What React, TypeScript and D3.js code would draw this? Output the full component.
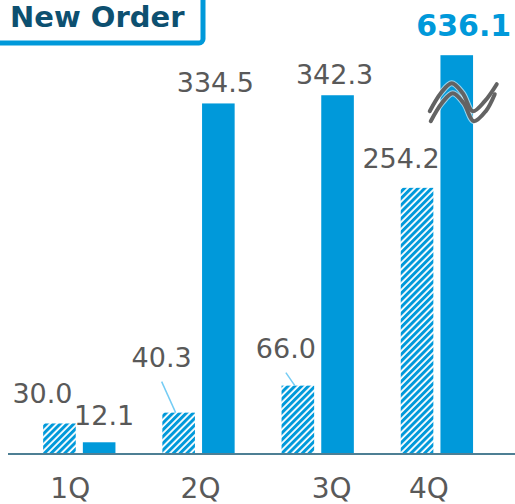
import React from "react";
import * as d3 from "d3";

const quarters = ["1Q", "2Q", "3Q", "4Q"];
const prevYear = [30.0, 40.3, 66.0, 254.2];
const currYear = [12.1, 334.5, 342.3, 636.1];
const capValue = 380.4; // bars above this are drawn broken
const series = ["prev", "curr"];

// label placement tweaks (not data)
const prevLabelDx = [-17, -17, -12, -16];
const prevLabelDy = [-20, -46, -28, -20];
const currLabelDx = [5, -3, -3, 7];
const currLabelDy = [-17, -11, -11, 0];
const tickDx = [-9, 2, 14, -8];

const BLUE = "#0099DA";
const GRAY = "#595959";

export default function App() {
  const W = 515;
  const H = 504;
  const baseY = 455;
  const y = d3.scaleLinear().domain([0, 400]).range([baseY, baseY - 420.4]);
  const x0 = d3.scaleBand<string>().domain(quarters).range([19.7, 496.5]).padding(0);
  const x1 = d3
    .scaleBand<string>()
    .domain(series)
    .range([23.45, 95.75])
    .paddingInner(0.179)
    .paddingOuter(0);
  const bw = x1.bandwidth();
  const font = "'DejaVu Sans', Verdana, sans-serif";

  const wave = d3
    .line<[number, number]>()
    .curve(d3.curveCatmullRom.alpha(0.5));

  const cx4 = (x0("4Q") as number) + (x1("curr") as number) + bw / 2;
  const capTop = y(capValue);
  const waveRel: [number, number][] = [
    [-27, 56],
    [-16, 38],
    [-5, 28],
    [6, 38],
    [16, 56],
    [28, 46],
    [40, 29],
  ];
  const wave1 = waveRel.map(([dx, dy]) => [cx4 + dx, capTop + dy] as [number, number]);
  const wave2 = waveRel.map(
    ([dx, dy], i) => [cx4 + dx + (i === waveRel.length - 1 ? -2 : 1), capTop + dy + 10] as [number, number]
  );

  return (
    <svg
      width={W}
      height={H}
      style={{ position: "absolute", left: 0, top: 0, background: "#fff" }}
    >
      <defs>
        <pattern
          id="hatch"
          patternUnits="userSpaceOnUse"
          width={4.8}
          height={4.8}
          patternTransform="rotate(45)"
        >
          <rect width={4.8} height={4.8} fill="#fff" />
          <rect width={3.0} height={4.8} fill={BLUE} />
        </pattern>
      </defs>

      {/* title box */}
      <rect x={-20} y={-20} width={223} height={63} rx={4} fill="#fff" stroke={BLUE} strokeWidth={5} />
      <text x={10} y={27} fontFamily={font} fontWeight="bold" fontSize={29} fill="#0D5070">
        New Order
      </text>

      {/* bars */}
      {quarters.map((q, i) => {
        const gx = x0(q) as number;
        const px = gx + (x1("prev") as number);
        const cx = gx + (x1("curr") as number);
        const pv = prevYear[i];
        const cv = currYear[i];
        const cvDraw = Math.min(cv, capValue);
        return (
          <g key={q}>
            <rect x={px} y={y(pv)} width={bw} height={baseY - y(pv)} fill="url(#hatch)" />
            <rect x={cx} y={y(cvDraw)} width={bw} height={baseY - y(cvDraw)} fill={BLUE} />
          </g>
        );
      })}

      {/* break symbol */}
      <path d={wave(wave1) as string} fill="none" stroke="#fff" strokeWidth={6} strokeLinecap="round" opacity={0.6} />
      <path d={wave(wave2) as string} fill="none" stroke="#fff" strokeWidth={6} strokeLinecap="round" opacity={0.6} />
      <path d={wave(wave1) as string} fill="none" stroke="#636363" strokeWidth={4} strokeLinecap="round" />
      <path d={wave(wave2) as string} fill="none" stroke="#636363" strokeWidth={4} strokeLinecap="round" />

      {/* axis line */}
      <line x1={8} x2={515} y1={454} y2={454} stroke="#4E7F94" strokeWidth={2} />

      {/* leader lines */}
      {[1, 2].map((i) => {
        const gx = x0(quarters[i]) as number;
        const pcx = gx + (x1("prev") as number) + bw / 2;
        const top = y(prevYear[i]);
        const lx = pcx + prevLabelDx[i];
        const ly = top + prevLabelDy[i] + 15;
        return (
          <line key={i} x1={lx} y1={ly} x2={pcx - 3} y2={top} stroke="#74CCF4" strokeWidth={1.5} />
        );
      })}

      {/* value labels */}
      {quarters.map((q, i) => {
        const gx = x0(q) as number;
        const pcx = gx + (x1("prev") as number) + bw / 2;
        const ccx = gx + (x1("curr") as number) + bw / 2;
        const isBig = currYear[i] > capValue;
        return (
          <g key={q}>
            <text
              x={pcx + prevLabelDx[i]}
              y={y(prevYear[i]) + prevLabelDy[i]}
              textAnchor="middle"
              fontFamily={font}
              fontSize={27}
              fill={GRAY}
            >
              {prevYear[i].toFixed(1)}
            </text>
            <text
              x={ccx + currLabelDx[i]}
              y={isBig ? 35.7 : y(currYear[i]) + currLabelDy[i]}
              textAnchor="middle"
              fontFamily={font}
              fontSize={isBig ? 30 : 27}
              fontWeight={isBig ? "bold" : "normal"}
              fill={isBig ? BLUE : GRAY}
            >
              {currYear[i].toFixed(1)}
            </text>
          </g>
        );
      })}

      {/* category labels */}
      {quarters.map((q, i) => (
        <text
          key={q}
          x={(x0(q) as number) + x0.bandwidth() / 2 + tickDx[i]}
          y={498}
          textAnchor="middle"
          fontFamily={font}
          fontSize={28}
          fill={GRAY}
        >
          {q}
        </text>
      ))}
    </svg>
  );
}
